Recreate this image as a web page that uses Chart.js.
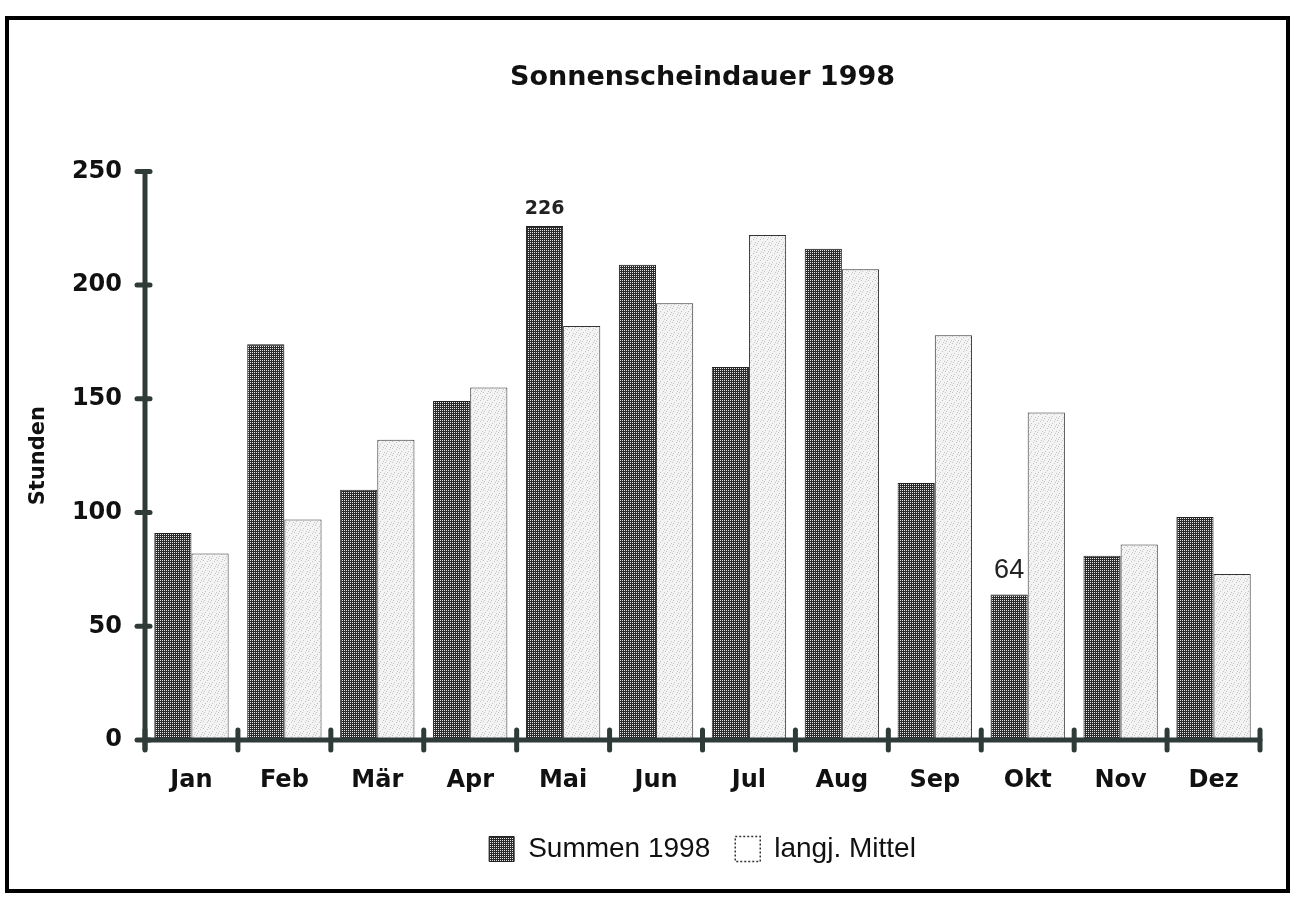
<!DOCTYPE html>
<html>
<head>
<meta charset="utf-8">
<title>Sonnenscheindauer 1998</title>
<script src="https://cdn.jsdelivr.net/npm/chart.js@4/dist/chart.umd.min.js"></script>
<style>
  html, body { margin:0; padding:0; background:#fff; }
  #wrap { position:absolute; left:0; top:0; width:1295px; height:897px; }
</style>
</head>
<body>
<div id="wrap"><canvas id="sunChart"></canvas></div>
<script>

// ---- data ----
const months = ["Jan","Feb","Mär","Apr","Mai","Jun","Jul","Aug","Sep","Okt","Nov","Dez"];
const summen1998 = [91,174,110,149,226,209,164,216,113,64,81,98];
const langjMittel = [82,97,132,155,182,192,222,207,178,144,86,73];
const yTicks = [0,50,100,150,200,250];
// values written above single bars
const barNotes = [
  { index:4, text:"226", font:"bold 19px 'DejaVu Sans'", gap:12 },
  { index:9, text:"64",  font:"27px 'Liberation Sans'", gap:16 }
];

const axisColor = '#2f3b38';

function makePattern(bg, dot, size, dots){
  const c = document.createElement('canvas');
  c.width = size; c.height = size;
  const g = c.getContext('2d');
  g.fillStyle = bg;
  g.fillRect(0,0,size,size);
  g.fillStyle = dot;
  dots.forEach(p => g.fillRect(p[0],p[1],1,1));
  return g.createPattern(c,'repeat');
}

const darkFill = makePattern('#2b2b2b','#e6e6e6',2,[[0,0]]);
const lightFill = makePattern('#f3f3f3','#c4c4c4',7,[[0,0],[4,1],[2,3],[6,4],[1,5],[5,6]]);

// frame, axes with crossing ticks, notes
const framePlugin = {
  id:'frame',
  beforeDraw(chart){
    const ctx = chart.ctx;
    ctx.save();
    ctx.fillStyle = '#fff';
    ctx.fillRect(0,0,chart.width,chart.height);
    ctx.strokeStyle = '#000';
    ctx.lineWidth = 4;
    ctx.strokeRect(7,18,1281,873);
    ctx.restore();
  },
  afterDatasetsDraw(chart){
    const ctx = chart.ctx;
    const x = chart.scales.x;
    const y = chart.scales.y;
    const a = chart.chartArea;
    ctx.save();
    ctx.strokeStyle = axisColor;
    ctx.lineWidth = 5;
    ctx.lineCap = 'round';

    // y axis
    ctx.beginPath();
    ctx.moveTo(a.left, a.top);
    ctx.lineTo(a.left, a.bottom + 9);
    ctx.stroke();
    yTicks.forEach(v => {
      const py = y.getPixelForValue(v);
      ctx.beginPath();
      ctx.moveTo(a.left - 8, py);
      ctx.lineTo(a.left + 5, py);
      ctx.stroke();
    });

    // x axis
    ctx.beginPath();
    ctx.moveTo(a.left, a.bottom);
    ctx.lineTo(a.right, a.bottom);
    ctx.stroke();
    const step = (x.getPixelForValue(1) - x.getPixelForValue(0));
    for(let i=0;i<=months.length;i++){
      const px = x.getPixelForValue(0) - step/2 + i*step;
      ctx.beginPath();
      ctx.moveTo(px, a.bottom - 10);
      ctx.lineTo(px, a.bottom + 10);
      ctx.stroke();
    }

    // notes above bars
    const meta = chart.getDatasetMeta(0);
    ctx.fillStyle = '#222';
    ctx.textAlign = 'center';
    ctx.textBaseline = 'alphabetic';
    barNotes.forEach(n => {
      const el = meta.data[n.index];
      ctx.font = n.font;
      ctx.fillText(n.text, el.x, el.y - n.gap);
    });
    ctx.restore();
  }
};

new Chart(document.getElementById('sunChart'), {
  type:'bar',
  data:{
    labels:months,
    datasets:[
      {
        label:'Summen 1998',
        data:summen1998,
        backgroundColor:darkFill,
        borderColor:'#222',
        borderWidth:1,
        categoryPercentage:0.8,
        barPercentage:1.0
      },
      {
        label:'langj. Mittel',
        data:langjMittel,
        backgroundColor:lightFill,
        borderColor:'#333',
        borderWidth:1,
        categoryPercentage:0.8,
        barPercentage:1.0
      }
    ]
  },
  options:{
    responsive:true,
    maintainAspectRatio:false,
    animation:false,
    layout:{ padding:{ left:10, right:35, top:0, bottom:24 } },
    plugins:{
      tooltip:{ enabled:false },
      title:{
        display:true,
        fullSize:false,
        text:'Sonnenscheindauer 1998',
        color:'#111',
        font:{ family:"'DejaVu Sans'", size:27, weight:'bold' },
        padding:{ top:62, bottom:77 }
      },
      legend:{
        position:'bottom',
        fullSize:false,
        labels:{
          color:'#111',
          boxWidth:25,
          boxHeight:25,
          padding:25,
          font:{ family:"'Liberation Sans'", size:28 },
          generateLabels(chart){
            const items = Chart.defaults.plugins.legend.labels.generateLabels(chart);
            items[0].fillStyle = darkFill;
            items[0].strokeStyle = '#222';
            items[0].lineWidth = 1;
            items[1].fillStyle = '#fff';
            items[1].strokeStyle = '#333';
            items[1].lineWidth = 1.5;
            items[1].lineDash = [2,2];
            return items;
          }
        }
      }
    },
    scales:{
      x:{
        grid:{ display:false, drawTicks:false },
        border:{ display:false },
        ticks:{
          color:'#111',
          padding:26,
          font:{ family:"'DejaVu Sans'", size:24, weight:'bold' }
        },
        afterFit(scale){ scale.height = 70; }
      },
      y:{
        min:0,
        max:250,
        afterBuildTicks(scale){ scale.ticks = yTicks.map(v => ({ value:v })); },
        grid:{ display:false, drawTicks:false },
        border:{ display:false },
        ticks:{
          color:'#111',
          padding:23,
          font:{ family:"'DejaVu Sans'", size:24, weight:'bold' }
        },
        title:{
          display:true,
          text:'Stunden',
          color:'#111',
          font:{ family:"'DejaVu Sans'", size:21, weight:'bold' },
          padding:{ top:16, bottom:0 }
        },
        afterFit(scale){ scale.width = 135; }
      }
    }
  },
  plugins:[framePlugin]
});

</script>
</body>
</html>
